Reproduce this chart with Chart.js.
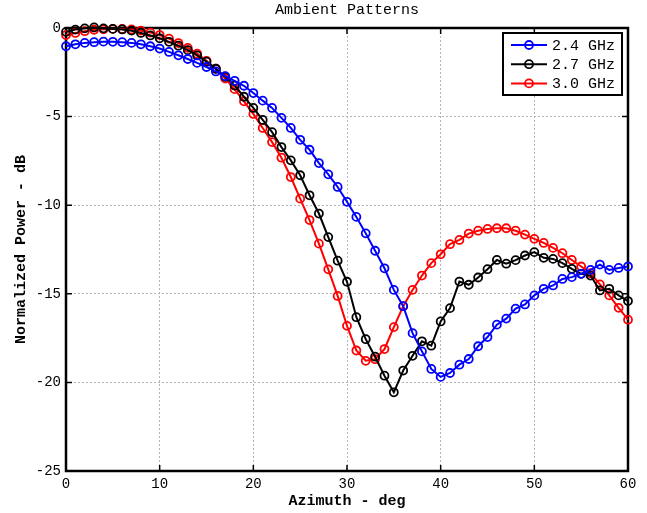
<!DOCTYPE html>
<html>
<head>
<meta charset="utf-8">
<script src="https://cdn.jsdelivr.net/npm/chart.js@4.4.1/dist/chart.umd.min.js"></script>
<style>
  html, body { margin: 0; padding: 0; background: #fff; }
  #wrap { width: 647px; height: 513px; }
</style>
</head>
<body>
<div id="wrap"><canvas id="chart" width="647" height="513"></canvas></div>
<script>
// azimuth, deg
const azimuth = [0,1,2,3,4,5,6,7,8,9,10,11,12,13,14,15,16,17,18,19,20,
  21,22,23,24,25,26,27,28,29,30,31,32,33,34,35,36,37,38,39,40,
  41,42,43,44,45,46,47,48,49,50,51,52,53,54,55,56,57,58,59,60];

// normalized power, dB
const ghz24 = [-1.03,-0.92,-0.84,-0.80,-0.77,-0.78,-0.80,-0.84,-0.92,-1.03,-1.16,
  -1.35,-1.54,-1.75,-1.97,-2.20,-2.45,-2.72,-2.98,-3.26,-3.67,
  -4.10,-4.51,-5.07,-5.64,-6.31,-6.87,-7.62,-8.26,-8.97,-9.81,
  -10.66,-11.59,-12.57,-13.56,-14.78,-15.70,-17.22,-18.25,-19.24,-19.69,
  -19.47,-19.00,-18.68,-17.96,-17.44,-16.74,-16.40,-15.84,-15.60,-15.09,
  -14.72,-14.53,-14.16,-14.06,-13.87,-13.65,-13.35,-13.65,-13.54,-13.46];

const ghz27 = [-0.22,-0.09,-0.02,0.03,-0.02,-0.05,-0.08,-0.15,-0.28,-0.42,-0.58,
  -0.78,-1.00,-1.25,-1.55,-1.90,-2.30,-2.75,-3.25,-3.88,-4.51,
  -5.19,-5.88,-6.72,-7.47,-8.31,-9.44,-10.47,-11.80,-13.13,-14.32,
  -16.32,-17.56,-18.55,-19.62,-20.56,-19.33,-18.50,-17.68,-17.93,-16.56,
  -15.81,-14.31,-14.49,-14.08,-13.61,-13.09,-13.30,-13.10,-12.84,-12.65,
  -12.97,-13.03,-13.27,-13.59,-13.87,-13.97,-14.81,-14.72,-15.09,-15.41];

const ghz30 = [-0.40,-0.28,-0.18,-0.10,-0.07,-0.05,-0.05,-0.08,-0.15,-0.26,-0.40,
  -0.60,-0.85,-1.12,-1.45,-1.85,-2.30,-2.85,-3.45,-4.14,-4.85,
  -5.64,-6.44,-7.32,-8.41,-9.63,-10.84,-12.17,-13.62,-15.12,-16.81,
  -18.20,-18.78,-18.69,-18.12,-16.88,-15.70,-14.78,-13.97,-13.27,-12.77,
  -12.20,-11.96,-11.60,-11.44,-11.34,-11.30,-11.30,-11.44,-11.66,-11.90,
  -12.13,-12.41,-12.71,-13.09,-13.46,-13.84,-14.47,-15.09,-15.79,-16.46];

const seriesLabels = ['2.4 GHz', '2.7 GHz', '3.0 GHz'];
const seriesColors = ['#0000ff', '#000000', '#ff0000'];
const xTicks = [0, 10, 20, 30, 40, 50, 60];
const yTicks = [0, -5, -10, -15, -20, -25];

const MONO = '"Liberation Mono", "DejaVu Sans Mono", monospace';

function toPoints(values) {
  return azimuth.map((a, i) => ({x: a, y: values[i]}));
}

const datasets = [ghz24, ghz27, ghz30].map((values, i) => ({
  label: seriesLabels[i],
  data: toPoints(values),
  borderColor: seriesColors[i],
  backgroundColor: seriesColors[i],
  borderWidth: 2,
  pointRadius: 4,
  pointBorderWidth: 1.8,
  pointBackgroundColor: 'rgba(0,0,0,0)',
  pointBorderColor: seriesColors[i],
  tension: 0,
  clip: false
}));

// frame box, inward tick marks, title
const framePlugin = {
  id: 'frame',
  beforeDatasetsDraw(chart) {
    const {ctx, chartArea: a, scales} = chart;
    ctx.save();
    ctx.strokeStyle = '#000';
    ctx.lineWidth = 1.5;
    ctx.beginPath();
    xTicks.slice(1, -1).forEach(t => {
      const px = scales.x.getPixelForValue(t);
      ctx.moveTo(px, a.bottom); ctx.lineTo(px, a.bottom - 6);
      ctx.moveTo(px, a.top); ctx.lineTo(px, a.top + 6);
    });
    yTicks.slice(1, -1).forEach(t => {
      const py = scales.y.getPixelForValue(t);
      ctx.moveTo(a.left, py); ctx.lineTo(a.left + 6, py);
      ctx.moveTo(a.right, py); ctx.lineTo(a.right - 6, py);
    });
    ctx.stroke();
    ctx.lineWidth = 2.5;
    ctx.strokeRect(a.left, a.top, a.right - a.left, a.bottom - a.top);
    ctx.fillStyle = '#000';
    ctx.font = '15px ' + MONO;
    ctx.textAlign = 'center';
    ctx.textBaseline = 'middle';
    ctx.fillText('Ambient Patterns', (a.left + a.right) / 2, 10);
    ctx.restore();
  }
};

// legend box with line + circle markers
const legendPlugin = {
  id: 'boxLegend',
  afterDatasetsDraw(chart) {
    const {ctx} = chart;
    const x0 = 503, y0 = 33, w = 119, h = 62;
    ctx.save();
    ctx.fillStyle = '#fff';
    ctx.fillRect(x0, y0, w, h);
    ctx.strokeStyle = '#000';
    ctx.lineWidth = 2;
    ctx.strokeRect(x0, y0, w, h);
    chart.data.datasets.forEach((ds, i) => {
      const y = y0 + 12 + i * 19.2;
      ctx.strokeStyle = ds.borderColor;
      ctx.lineWidth = 2;
      ctx.beginPath();
      ctx.moveTo(x0 + 8, y); ctx.lineTo(x0 + 44, y);
      ctx.stroke();
      ctx.lineWidth = 1.8;
      ctx.beginPath();
      ctx.arc(x0 + 26, y, 4, 0, Math.PI * 2);
      ctx.stroke();
      ctx.fillStyle = '#000';
      ctx.font = '15px ' + MONO;
      ctx.textAlign = 'left';
      ctx.textBaseline = 'middle';
      ctx.fillText(ds.label, x0 + 49, y + 1);
    });
    ctx.restore();
  }
};

const gridStyle = {
  color: '#b4b4b4',
  lineWidth: 1,
  drawTicks: false
};

new Chart(document.getElementById('chart'), {
  type: 'line',
  data: {datasets: datasets},
  options: {
    responsive: false,
    animation: false,
    layout: {padding: {top: 28, right: 19, left: 0, bottom: 0}},
    plugins: {
      legend: {display: false},
      title: {display: false},
      tooltip: {enabled: false}
    },
    scales: {
      x: {
        type: 'linear',
        min: 0,
        max: 60,
        afterFit: scale => { scale.height = 42; },
        afterBuildTicks: scale => { scale.ticks = xTicks.map(v => ({value: v})); },
        grid: gridStyle,
        border: {display: false, dash: [2, 2]},
        ticks: {color: '#000', padding: 5, font: {family: MONO, size: 14}},
        title: {
          display: true,
          text: 'Azimuth - deg',
          color: '#000',
          font: {family: MONO, size: 15, weight: 'bold'},
          padding: {top: 0, bottom: 3}
        }
      },
      y: {
        type: 'linear',
        min: -25,
        max: 0,
        afterFit: scale => { scale.width = 66; },
        afterBuildTicks: scale => { scale.ticks = yTicks.map(v => ({value: v})); },
        grid: gridStyle,
        border: {display: false, dash: [2, 2]},
        ticks: {color: '#000', padding: 5, font: {family: MONO, size: 14}},
        title: {
          display: true,
          text: 'Normalized Power - dB',
          color: '#000',
          font: {family: MONO, size: 15, weight: 'bold'},
          padding: {top: 12, bottom: 0}
        }
      }
    }
  },
  plugins: [framePlugin, legendPlugin]
});
</script>
</body>
</html>
